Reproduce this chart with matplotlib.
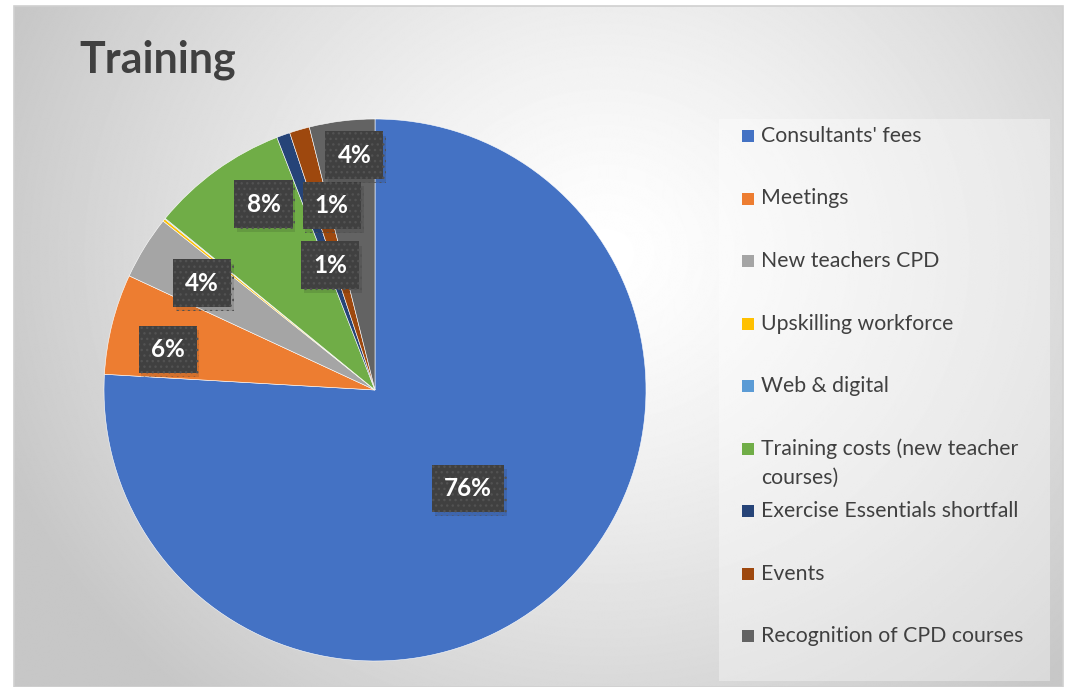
import numpy as np
import matplotlib
matplotlib.use('Agg')
import matplotlib.pyplot as plt
import matplotlib.patheffects as pe
from matplotlib.patches import Rectangle

plt.rcParams['font.family'] = ['Lato', 'DejaVu Sans']
plt.rcParams['hatch.linewidth'] = 1.0

categories = ["Consultants' fees", 'Meetings', 'New teachers CPD', 'Upskilling workforce',
              'Web & digital', 'Training costs (new teacher\ncourses)', 'Exercise Essentials shortfall',
              'Events', 'Recognition of CPD courses']
shares = [76.0, 6.0, 3.8, 0.15, 0.05, 8.2, 0.8, 1.2, 3.9]
colors = ['#4472c4', '#ed7d31', '#a5a5a5', '#ffc000', '#5b9bd5',
          '#70ad47', '#264478', '#9e480e', '#636363']
# how far out along the radius each data label sits (None = no label shown)
label_r = [0.5, 0.78, 0.75, None, None, 0.80, 0.49, 0.70, 0.87]
label_nudge = [0, 3, 0, 0, 0, -5, 0, -3, -2]  # degrees

W, H = 1065, 687
fig = plt.figure(figsize=(W / 100, H / 100), dpi=100)

# chart background: radial grey gradient
bg = fig.add_axes([0, 0, 1, 1])
bg.set_xlim(0, W)
bg.set_ylim(H, 0)
bg.axis('off')
yy, xx = np.mgrid[0:H, 0:W]
d = np.sqrt(((xx - 600) / 1.0) ** 2 + ((yy - 250) / 0.9) ** 2)
shade = 1 - 0.22 * np.clip(d / 650, 0, 1) ** 1.3
bg.imshow(shade, cmap='gray', vmin=0, vmax=1, extent=(14, 1063, 687, 6), zorder=0)
bg.add_patch(Rectangle((14, 6), 1049, 681, fill=False, edgecolor='#d0d0d0', lw=1.2, zorder=1))
# legend panel
bg.add_patch(Rectangle((719, 119), 331, 562, facecolor='white', alpha=0.35, edgecolor='none', zorder=1))

fig.text(79 / W, 1 - 60 / H, 'Training', fontsize=31, fontweight='bold', color='#404040',
         va='center', ha='left')

# pie
cx, cy, r = 375, 390, 271
ax = fig.add_axes([(cx - r) / W, (H - cy - r) / H, 2 * r / W, 2 * r / H])
wedges, _ = ax.pie(shares, colors=colors, startangle=90, counterclock=False,
                   wedgeprops=dict(edgecolor='white', linewidth=0.4))
ax.set_xlim(-1, 1)
ax.set_ylim(-1, 1)
ax.set_aspect('equal')

total = sum(shares)
for w, s, lr, nd in zip(wedges, shares, label_r, label_nudge):
    if lr is None:
        continue
    mid = np.deg2rad((w.theta1 + w.theta2) / 2 + nd)
    t = ax.text(lr * np.cos(mid), lr * np.sin(mid), f'{round(s / total * 100):.0f}%',
                ha='center', va='center', fontsize=17.5, fontweight='bold', color='white',
                bbox=dict(boxstyle='square,pad=0.5', facecolor='#404040', edgecolor='#525252',
                          hatch='...', linewidth=0))
    t.get_bbox_patch().set_path_effects([pe.withSimplePatchShadow(offset=(2, -3), alpha=0.12),
                                         pe.Normal()])

# legend entries
y0 = 136
step = 62.5
for i, (name, c) in enumerate(zip(categories, colors)):
    y = y0 + i * step
    bg.add_patch(Rectangle((742, y - 6), 12, 12, facecolor=c, edgecolor='none', zorder=3))
    for k, line in enumerate(name.split('\n')):
        bg.text(761, y + k * 29, line, fontsize=15.3, color='#404040', va='center', ha='left',
                zorder=3)

fig.savefig('out.png', dpi=100)
